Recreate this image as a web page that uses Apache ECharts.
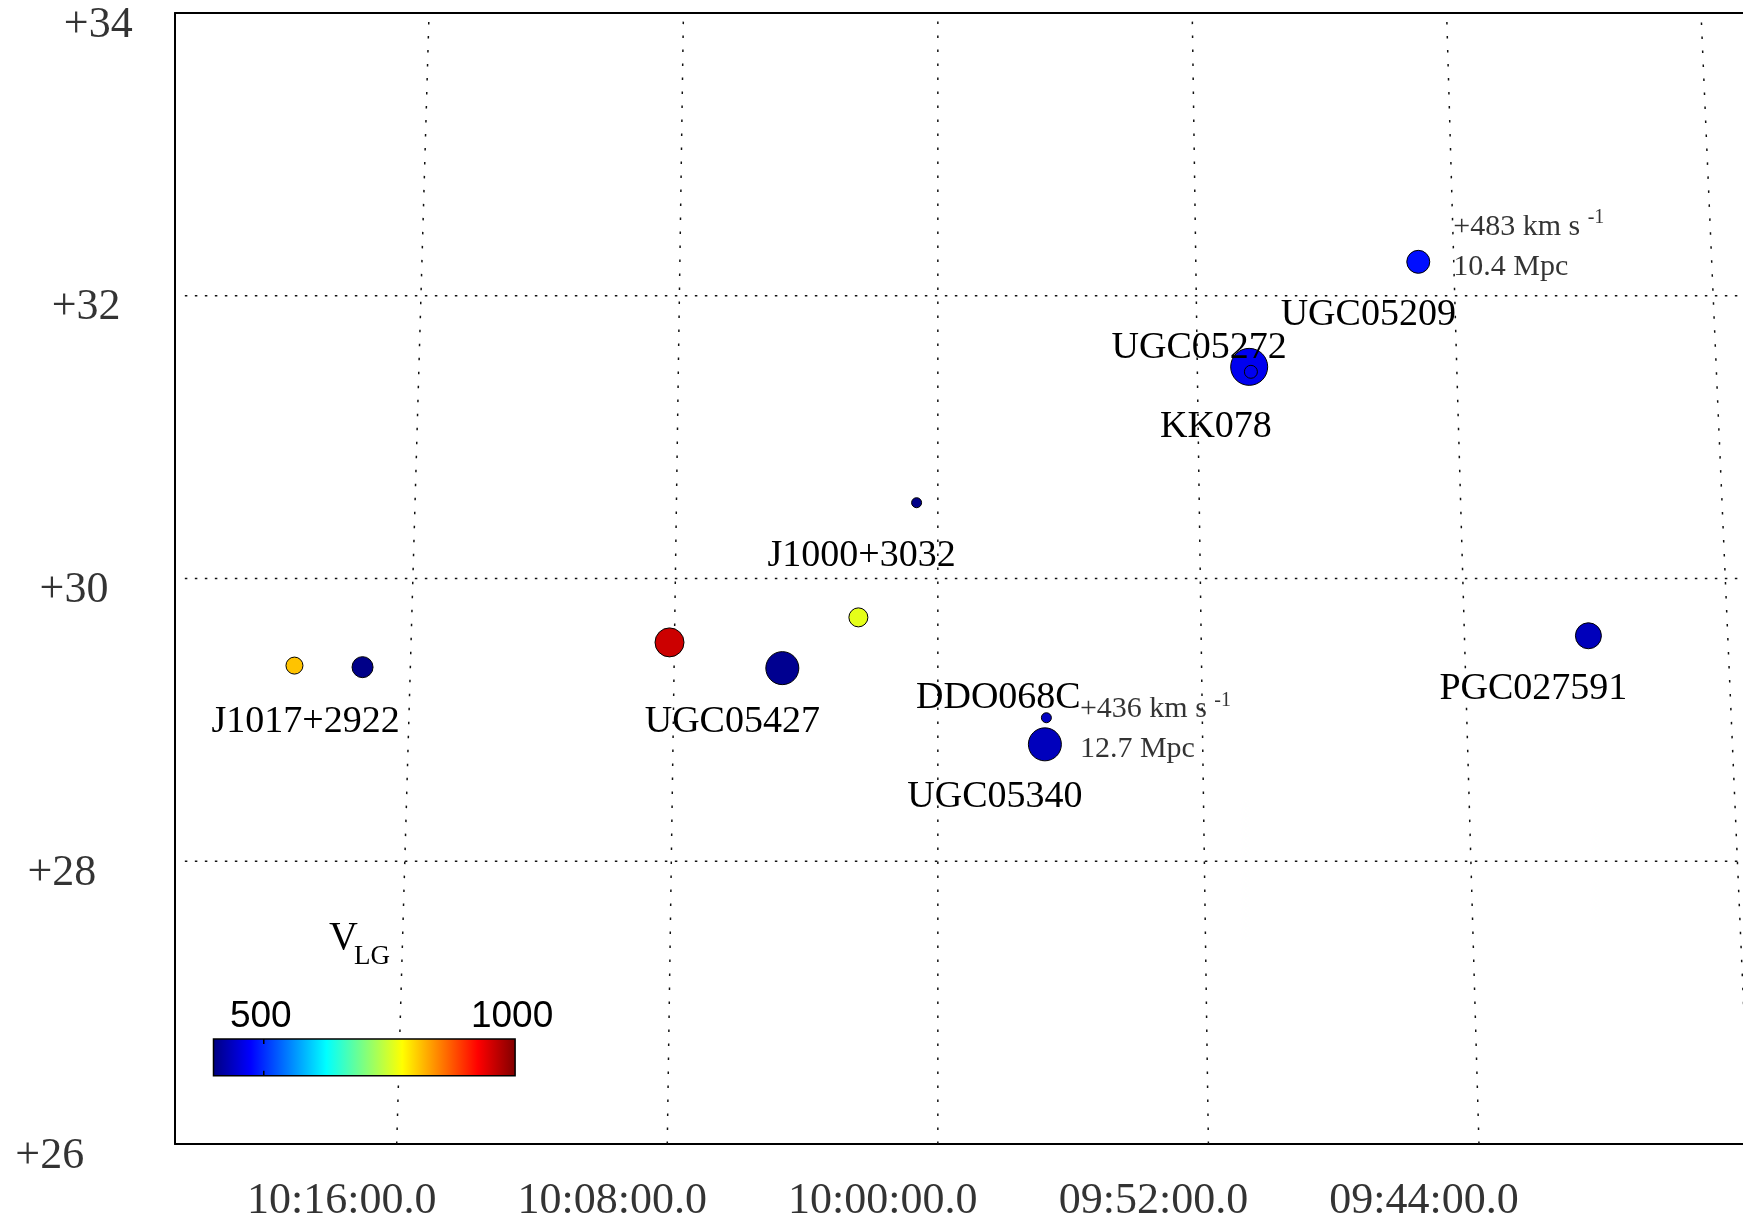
<!DOCTYPE html>
<html>
<head>
<meta charset="utf-8">
<script src="https://cdn.jsdelivr.net/npm/echarts@6/dist/echarts.min.js"></script>
<style>
  html, body { margin: 0; padding: 0; background: #fff; }
  #chart { width: 1743px; height: 1223px; }
</style>
</head>
<body>
<div id="chart"></div>
<script>
// ---------------- DATA ----------------
const RA_TICK_LABELS = ['10:16:00.0', '10:08:00.0', '10:00:00.0', '09:52:00.0', '09:44:00.0'];
const RA_GRID = ['10:16', '10:08', '10:00', '09:52', '09:44', '09:36'];
const DEC_TICKS = [26, 28, 30, 32, 34];
const DEC_TICK_LABELS = ['+26', '+28', '+30', '+32', '+34'];

const NAMES = ['', 'J1017+2922', '', 'UGC05427', '', 'J1000+3032', 'DDO068C', 'UGC05340', 'UGC05272', 'KK078', 'UGC05209', 'PGC027591'];
const RA    = ['10:19:31', '10:17:27', '10:08:09', '10:04:43', '10:02:25', '10:00:39', '09:56:43', '09:56:46', '09:50:24', '09:50:21', '09:45:06', '09:40:14'];
const DEC   = [29.384, 29.373, 29.548, 29.366, 29.725, 30.536, 29.015, 28.827, 31.497, 31.462, 32.240, 29.595];
const VLG   = [810, 405, 955, 410, 760, 405, 440, 436, 466, 466, 483, 435];
const DIST_MPC = [null, null, null, null, null, null, null, 12.7, null, null, 10.4, null];

const VLG_MIN = 400, VLG_MAX = 1000;
const COLORBAR_TICKS = [500, 1000];

// ---------------- STYLE ----------------
const SYMBOL_SIZE = [17, 21, 29, 33, 19, 10, 10, 33, 37, 13, 23, 26];
const LABEL_OFFSET = {
  1: [-57, 55], 3: [-50, 54], 5: [-55, 53], 6: [-48, -20], 7: [-50, 53],
  8: [-50, -19], 9: [-35, 55], 10: [-50, 53], 11: [-55, 53]
};
const JET = ['#00007F', '#0000FF', '#007FFF', '#00FFFF', '#7FFF7F', '#FFFF00', '#FF7F00', '#FF0000', '#7F0000'];
const SERIF = '"Liberation Serif", "Times New Roman", serif';
const SANS = '"Liberation Sans", Arial, sans-serif';

// ---------------- PROJECTION ----------------
// RA (minutes of time) -> projected x; RA increases to the left, meridians converge upward
function raToMin(s) {
  const p = s.split(':').map(Number);
  return p[0] * 60 + p[1] + (p[2] || 0) / 60;
}
const RA0 = 600; // 10:00
function proj(raMin, dec) {
  return (RA0 - raMin) * (1 - 0.0077 * (dec - 30));
}
const X_MIN = -23.25, X_MAX = 24.54;

// ---------------- SERIES ----------------
const series = [];

// RA grid lines (dotted, slanted)
RA_GRID.forEach(r => {
  const m = raToMin(r);
  series.push({
    type: 'line', silent: true, showSymbol: false, animation: false, z: 1,
    lineStyle: { color: '#111', width: 1.5, type: [2.5, 11.5] },
    data: [[proj(m, 26), 26], [proj(m, 34), 34]]
  });
});
// Dec grid lines
[28, 30, 32].forEach(d => {
  series.push({
    type: 'line', silent: true, showSymbol: false, animation: false, z: 1,
    lineStyle: { color: '#111', width: 1.5, type: [2.5, 7.5] },
    data: [[X_MIN + 0.3, d], [X_MAX, d]]
  });
});

// Objects
const POINT_SERIES_INDEX = series.length;
series.push({
  type: 'scatter', animation: false, z: 5,
  itemStyle: { borderColor: '#000', borderWidth: 1, opacity: 1 },
  data: NAMES.map((n, i) => ({
    value: [proj(raToMin(RA[i]), DEC[i]), DEC[i], VLG[i]],
    symbolSize: SYMBOL_SIZE[i],
    label: n ? {
      show: true, position: 'inside', formatter: n, offset: LABEL_OFFSET[i] || [-50, 53],
      align: 'center', verticalAlign: 'middle',
      fontFamily: SERIF, fontSize: 38, color: '#000'
    } : { show: false }
  }))
});

// Velocity/distance annotations
series.push({
  type: 'scatter', animation: false, z: 6, silent: true, symbolSize: 1,
  itemStyle: { color: 'transparent' }, clip: false,
  data: DIST_MPC.map((d, i) => d == null ? null : {
    value: [proj(raToMin(RA[i]), DEC[i]), DEC[i]],
    label: {
      show: true, position: 'inside', offset: [35, -15], align: 'left', verticalAlign: 'middle',
      formatter: '{a|+' + VLG[i] + ' km s }{sup|-1}\n{a|' + d.toFixed(1) + ' Mpc}',
      rich: {
        a: { fontFamily: SERIF, fontSize: 30, color: '#000', lineHeight: 40 },
        sup: { fontFamily: SERIF, fontSize: 20, color: '#000', padding: [0, 0, 18, 0] }
      }
    }
  }).filter(x => x)
});

// RA tick labels
series.push({
  type: 'scatter', animation: false, silent: true, symbolSize: 1, clip: false,
  itemStyle: { color: 'transparent' },
  data: RA_TICK_LABELS.map(t => ({
    value: [proj(raToMin(t), 26), 26],
    label: {
      show: true, position: 'inside', formatter: t, offset: [-55, 57],
      align: 'center', verticalAlign: 'middle', fontFamily: SERIF, fontSize: 44, color: '#000'
    }
  }))
});

// Dec tick labels (aligned along the 10:24 meridian)
series.push({
  type: 'scatter', animation: false, silent: true, symbolSize: 1, clip: false,
  itemStyle: { color: 'transparent' },
  data: DEC_TICKS.map((d, i) => ({
    value: [proj(raToMin('10:24'), d), d],
    label: {
      show: true, position: 'inside', formatter: DEC_TICK_LABELS[i], offset: [-42, 12],
      align: 'right', verticalAlign: 'middle', fontFamily: SERIF, fontSize: 44, color: '#000'
    }
  }))
});

// ---------------- COLORBAR (legend) ----------------
const CB = { x: 213.5, y: 1039, w: 301.6, h: 36.7 };
const cbX = v => CB.x + (v - VLG_MIN) / (VLG_MAX - VLG_MIN) * CB.w;
const graphic = [
  {
    type: 'rect', z: 100,
    shape: { x: CB.x, y: CB.y, width: CB.w, height: CB.h },
    style: {
      fill: new echarts.graphic.LinearGradient(0, 0, 1, 0,
        JET.map((c, i) => ({ offset: i / (JET.length - 1), color: c }))),
      stroke: '#000', lineWidth: 1.5
    }
  },
  { type: 'line', z: 101, shape: { x1: cbX(500), y1: CB.y, x2: cbX(500), y2: CB.y + 5 }, style: { stroke: '#000', lineWidth: 1.5 } },
  { type: 'line', z: 101, shape: { x1: cbX(500), y1: CB.y + CB.h - 5, x2: cbX(500), y2: CB.y + CB.h }, style: { stroke: '#000', lineWidth: 1.5 } },
  ...COLORBAR_TICKS.map(v => ({
    type: 'text', z: 101, x: cbX(v) - 3, y: CB.y - 22,
    style: { text: String(v), fontFamily: SANS, fontSize: 37, fill: '#000', align: 'center', verticalAlign: 'middle' }
  })),
  { type: 'text', z: 101, x: 329, y: 938, style: { text: 'V', fontFamily: SERIF, fontSize: 40, fill: '#000', align: 'left', verticalAlign: 'middle' } },
  { type: 'text', z: 101, x: 354, y: 957, style: { text: 'LG', fontFamily: SERIF, fontSize: 27, fill: '#000', align: 'left', verticalAlign: 'middle' } }
];

const frameAxis = {
  axisLine: { show: true, onZero: false, lineStyle: { color: '#000', width: 2 } },
  axisTick: { show: false }, axisLabel: { show: false }, splitLine: { show: false }
};

const chart = echarts.init(document.getElementById('chart'), null, { renderer: 'canvas' });
chart.setOption({
  backgroundColor: '#fff',
  animation: false,
  grid: { left: 175, top: 13, right: 0, height: 1131, show: false },
  xAxis: [
    Object.assign({ type: 'value', min: X_MIN, max: X_MAX, position: 'bottom' }, frameAxis),
    Object.assign({ type: 'value', min: X_MIN, max: X_MAX, position: 'top' }, frameAxis)
  ],
  yAxis: Object.assign({ type: 'value', min: 26, max: 34, position: 'left' }, frameAxis),
  visualMap: {
    show: false, type: 'continuous', min: VLG_MIN, max: VLG_MAX, dimension: 2,
    seriesIndex: POINT_SERIES_INDEX, inRange: { color: JET, opacity: 1 }
  },
  series: series,
  graphic: graphic
});
</script>
</body>
</html>
